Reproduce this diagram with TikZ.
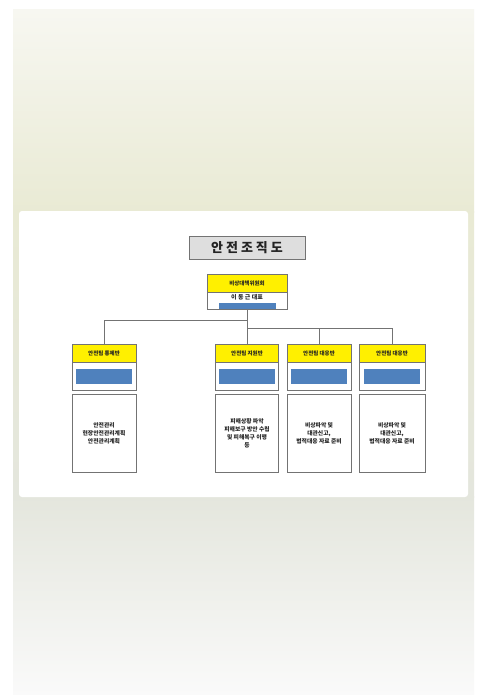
\documentclass[tikz,border=0pt]{standalone}
\usepackage{fontspec}
\setmainfont{Noto Sans CJK KR}
\usetikzlibrary{positioning}
\definecolor{MyBlue}{RGB}{79, 129, 189}
\definecolor{MyYellow}{RGB}{255, 240, 0}
\definecolor{MyGray}{RGB}{115, 115, 115}
\definecolor{MyText}{RGB}{35, 35, 35}
\definecolor{BgTop}{RGB}{247, 247, 241}
\definecolor{BgMid}{RGB}{233, 234, 212}
\definecolor{BgLow}{RGB}{228, 230, 221}
\definecolor{BgEnd}{RGB}{250, 250, 250}
\newcommand{\lw}{0.8pt}

\begin{document}
\begin{tikzpicture}[x=1pt, y=-1pt,
  every node/.style={text=MyText, inner sep=0pt},
  box/.style={draw=MyGray, line width=\lw},
  head/.style={box, fill=MyYellow, minimum height=18pt, font=\fontsize{5.5}{7}\selectfont\bfseries},
  frame/.style={box, fill=white, minimum height=28pt},
  bar/.style={fill=MyBlue, minimum width=56pt, minimum height=15pt},
  desc/.style={box, fill=white, minimum height=78pt, align=center, font=\fontsize{5.8}{8}\selectfont\bfseries},
  conn/.style={draw=MyGray, line width=\lw}]
  \useasboundingbox[fill=white] (0,0) rectangle (479,695);
  \shade[top color=BgTop, bottom color=BgMid] (13,10) rectangle (474,212);
  \shade[top color=BgMid, bottom color=BgLow] (13,211) rectangle (474,497);
  \shade[top color=BgLow, bottom color=BgEnd] (13,496) rectangle (474,695);
  \fill[white, rounded corners=3pt] (19,211) rectangle (468,497);

  \node[box, fill=black!13, minimum width=116pt, minimum height=23pt,
        font=\fontsize{13}{15}\selectfont\bfseries] (title) at (247,247.5) {안 전 조 직 도};

  \node[head, minimum width=80pt] (ceo) at (247,283) {비상대책위원회};
  \node[frame, minimum width=80pt, minimum height=17pt, below=0pt of ceo] (ceoframe) {};
  \node[anchor=north, font=\fontsize{6}{7}\selectfont\bfseries] (ceoname)
        at ([yshift=-1.5pt]ceoframe.north) {이 동 근 대표};
  \node[bar, minimum width=57pt, minimum height=6pt, anchor=south] (ceobar)
        at ([yshift=1.5pt]ceoframe.south) {};

  \node[head, minimum width=64pt] (h1) at (104,353) {안전팀 통제반};
  \node[head, minimum width=63pt] (h2) at (247,353) {안전팀 지원반};
  \node[head, minimum width=64pt] (h3) at (319,353) {안전팀 대응반};
  \node[head, minimum width=66pt] (h4) at (392,353) {안전팀 대응반};

  \node[frame, minimum width=64pt, below=0pt of h1] (f1) {};
  \node[frame, minimum width=63pt, below=0pt of h2] (f2) {};
  \node[frame, minimum width=64pt, below=0pt of h3] (f3) {};
  \node[frame, minimum width=66pt, below=0pt of h4] (f4) {};
  \node[bar] (b1) at (f1) {};
  \node[bar] (b2) at (f2) {};
  \node[bar] (b3) at (f3) {};
  \node[bar] (b4) at (f4) {};

  \node[desc, minimum width=64pt, below=3pt of f1] (d1) {안전관리\\현장안전관리계획\\안전관리계획};
  \node[desc, minimum width=63pt, below=3pt of f2] (d2) {피해상황 파악\\피해보구 방안 수립\\및 피해복구 이행\\등};
  \node[desc, minimum width=64pt, below=3pt of f3] (d3) {비상파악 및\\대관신고,\\법적대응 자료 준비};
  \node[desc, minimum width=66pt, below=3pt of f4] (d4) {비상파악 및\\대관신고,\\법적대응 자료 준비};

  \draw[conn] (ceoframe.south) -- ++(0,10) coordinate (j1) -| (h1.north);
  \draw[conn] (j1) -- ++(0,8) coordinate (j2) -| (h4.north);
  \draw[conn] (j2) -| (h3.north);
  \draw[conn] (j2) -- (h2.north);
\end{tikzpicture}
\end{document}
